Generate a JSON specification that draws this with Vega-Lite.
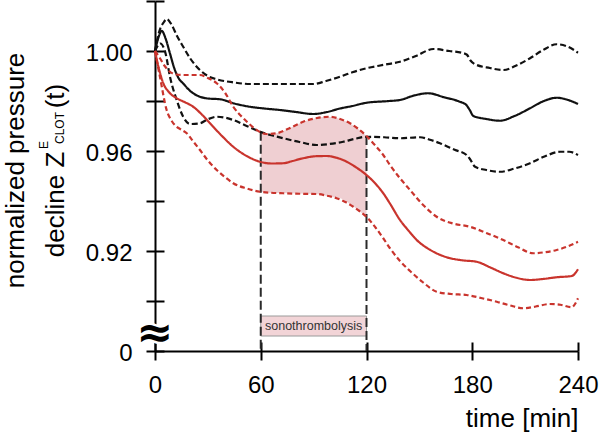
{
  "$schema": "https://vega.github.io/schema/vega-lite/v6.json",
  "width": 423,
  "height": 350,
  "autosize": {"type": "none"},
  "padding": {"left": 155, "top": 1, "right": 22, "bottom": 82},
  "config": {"view": {"stroke": null}, "font": "Liberation Sans"},
  "datasets": {
    "curves": [
      {"s":"CM","t":0,"v":1.000},{"s":"CM","t":2,"v":1.0055},{"s":"CM","t":3.8,"v":1.0081},{"s":"CM","t":6,"v":1.005},{"s":"CM","t":8.5,"v":0.999},{"s":"CM","t":11,"v":0.993},{"s":"CM","t":13.5,"v":0.989},{"s":"CM","t":16,"v":0.987},{"s":"CM","t":20,"v":0.984},{"s":"CM","t":25.5,"v":0.9817},{"s":"CM","t":30,"v":0.981},{"s":"CM","t":36.9,"v":0.9807},{"s":"CM","t":45,"v":0.979},{"s":"CM","t":53.9,"v":0.9777},{"s":"CM","t":62,"v":0.977},{"s":"CM","t":70.9,"v":0.9764},{"s":"CM","t":80,"v":0.9756},{"s":"CM","t":89.8,"v":0.9748},{"s":"CM","t":97,"v":0.9755},{"s":"CM","t":105,"v":0.977},{"s":"CM","t":112,"v":0.978},{"s":"CM","t":120,"v":0.9793},{"s":"CM","t":133,"v":0.980},{"s":"CM","t":139,"v":0.9804},{"s":"CM","t":147,"v":0.9822},{"s":"CM","t":155,"v":0.9831},{"s":"CM","t":164,"v":0.9815},{"s":"CM","t":173,"v":0.9797},{"s":"CM","t":176.5,"v":0.9785},{"s":"CM","t":178.5,"v":0.9765},{"s":"CM","t":180.6,"v":0.974},{"s":"CM","t":188,"v":0.9728},{"s":"CM","t":195.7,"v":0.9721},{"s":"CM","t":204,"v":0.974},{"s":"CM","t":212.8,"v":0.9771},{"s":"CM","t":220,"v":0.9798},{"s":"CM","t":227.9,"v":0.9813},{"s":"CM","t":234,"v":0.9805},{"s":"CM","t":240,"v":0.9788},

      {"s":"CU","t":0,"v":1.000},{"s":"CU","t":2.5,"v":1.008},{"s":"CU","t":5,"v":1.0115},{"s":"CU","t":6.6,"v":1.0128},{"s":"CU","t":9,"v":1.011},{"s":"CU","t":12.5,"v":1.006},{"s":"CU","t":16,"v":1.0017},{"s":"CU","t":20,"v":0.997},{"s":"CU","t":25.5,"v":0.9924},{"s":"CU","t":30,"v":0.990},{"s":"CU","t":35,"v":0.9887},{"s":"CU","t":45,"v":0.9874},{"s":"CU","t":54,"v":0.9868},{"s":"CU","t":72.8,"v":0.9868},{"s":"CU","t":89.8,"v":0.9868},{"s":"CU","t":97,"v":0.988},{"s":"CU","t":105,"v":0.9897},{"s":"CU","t":112,"v":0.9915},{"s":"CU","t":120,"v":0.9931},{"s":"CU","t":130,"v":0.9945},{"s":"CU","t":139,"v":0.9957},{"s":"CU","t":148,"v":0.998},{"s":"CU","t":158,"v":1.0008},{"s":"CU","t":167,"v":1.0000},{"s":"CU","t":174,"v":0.9993},{"s":"CU","t":177,"v":0.9985},{"s":"CU","t":179,"v":0.9962},{"s":"CU","t":181.6,"v":0.9947},{"s":"CU","t":190,"v":0.9932},{"s":"CU","t":197.6,"v":0.9924},{"s":"CU","t":205,"v":0.9942},{"s":"CU","t":212.8,"v":0.9971},{"s":"CU","t":220,"v":1.0003},{"s":"CU","t":227.9,"v":1.0027},{"s":"CU","t":234,"v":1.0018},{"s":"CU","t":240,"v":0.9993},

      {"s":"CL","t":0,"v":1.000},{"s":"CL","t":3,"v":1.003},{"s":"CL","t":6,"v":0.999},{"s":"CL","t":8.5,"v":0.9897},{"s":"CL","t":12.3,"v":0.9804},{"s":"CL","t":16,"v":0.9737},{"s":"CL","t":19.9,"v":0.9708},{"s":"CL","t":25.5,"v":0.9711},{"s":"CL","t":30,"v":0.9727},{"s":"CL","t":35,"v":0.9737},{"s":"CL","t":40,"v":0.9733},{"s":"CL","t":44.4,"v":0.9724},{"s":"CL","t":52,"v":0.970},{"s":"CL","t":59.6,"v":0.9677},{"s":"CL","t":66,"v":0.9663},{"s":"CL","t":72.8,"v":0.9651},{"s":"CL","t":82,"v":0.9636},{"s":"CL","t":91.7,"v":0.9624},{"s":"CL","t":99,"v":0.9628},{"s":"CL","t":106.8,"v":0.9637},{"s":"CL","t":113,"v":0.9648},{"s":"CL","t":120,"v":0.9657},{"s":"CL","t":130,"v":0.9655},{"s":"CL","t":139,"v":0.9651},{"s":"CL","t":150.4,"v":0.9655},{"s":"CL","t":156,"v":0.9645},{"s":"CL","t":161.7,"v":0.9631},{"s":"CL","t":170,"v":0.9605},{"s":"CL","t":176.8,"v":0.9584},{"s":"CL","t":178.5,"v":0.957},{"s":"CL","t":181.6,"v":0.9537},{"s":"CL","t":188,"v":0.9524},{"s":"CL","t":195.7,"v":0.9517},{"s":"CL","t":204,"v":0.953},{"s":"CL","t":212.8,"v":0.9551},{"s":"CL","t":221,"v":0.9578},{"s":"CL","t":229.8,"v":0.9597},{"s":"CL","t":235,"v":0.9597},{"s":"CL","t":240,"v":0.9584},

      {"s":"SM","t":0,"v":1.000},{"s":"SM","t":2,"v":0.9935},{"s":"SM","t":4.7,"v":0.9871},{"s":"SM","t":8,"v":0.9835},{"s":"SM","t":12.3,"v":0.9811},{"s":"SM","t":17,"v":0.9795},{"s":"SM","t":21.7,"v":0.9777},{"s":"SM","t":26,"v":0.975},{"s":"SM","t":31.2,"v":0.9711},{"s":"SM","t":38,"v":0.966},{"s":"SM","t":44.4,"v":0.9617},{"s":"SM","t":52,"v":0.958},{"s":"SM","t":59.6,"v":0.9557},{"s":"SM","t":66,"v":0.955},{"s":"SM","t":72.8,"v":0.9551},{"s":"SM","t":78,"v":0.956},{"s":"SM","t":84.1,"v":0.9571},{"s":"SM","t":91,"v":0.9579},{"s":"SM","t":97.4,"v":0.958},{"s":"SM","t":103,"v":0.9573},{"s":"SM","t":108.8,"v":0.9557},{"s":"SM","t":114,"v":0.9535},{"s":"SM","t":120,"v":0.9504},{"s":"SM","t":125,"v":0.947},{"s":"SM","t":129.5,"v":0.9431},{"s":"SM","t":133.3,"v":0.939},{"s":"SM","t":139,"v":0.9324},{"s":"SM","t":144,"v":0.928},{"s":"SM","t":148.5,"v":0.9244},{"s":"SM","t":156,"v":0.9205},{"s":"SM","t":165.5,"v":0.9175},{"s":"SM","t":174,"v":0.9163},{"s":"SM","t":182.5,"v":0.9157},{"s":"SM","t":190,"v":0.9135},{"s":"SM","t":197.6,"v":0.9111},{"s":"SM","t":205,"v":0.9093},{"s":"SM","t":212.8,"v":0.9084},{"s":"SM","t":220,"v":0.9088},{"s":"SM","t":227.9,"v":0.9095},{"s":"SM","t":236.4,"v":0.910},{"s":"SM","t":240,"v":0.9127},

      {"s":"SU","t":0,"v":1.000},{"s":"SU","t":2.8,"v":0.9971},{"s":"SU","t":5.5,"v":0.994},{"s":"SU","t":8.5,"v":0.9917},{"s":"SU","t":12,"v":0.9906},{"s":"SU","t":16,"v":0.9904},{"s":"SU","t":25.5,"v":0.9904},{"s":"SU","t":30,"v":0.9892},{"s":"SU","t":35,"v":0.9871},{"s":"SU","t":40,"v":0.983},{"s":"SU","t":44.4,"v":0.9777},{"s":"SU","t":51,"v":0.9725},{"s":"SU","t":57.7,"v":0.9684},{"s":"SU","t":63,"v":0.9668},{"s":"SU","t":69,"v":0.9671},{"s":"SU","t":76,"v":0.969},{"s":"SU","t":84.1,"v":0.9717},{"s":"SU","t":92,"v":0.9732},{"s":"SU","t":99.3,"v":0.9737},{"s":"SU","t":105,"v":0.9728},{"s":"SU","t":110.6,"v":0.9711},{"s":"SU","t":115,"v":0.969},{"s":"SU","t":120,"v":0.966},{"s":"SU","t":125,"v":0.9622},{"s":"SU","t":129.5,"v":0.9584},{"s":"SU","t":133.3,"v":0.9544},{"s":"SU","t":139,"v":0.9491},{"s":"SU","t":144.7,"v":0.9444},{"s":"SU","t":152,"v":0.9385},{"s":"SU","t":159.8,"v":0.9337},{"s":"SU","t":169,"v":0.931},{"s":"SU","t":178.7,"v":0.9297},{"s":"SU","t":188,"v":0.9272},{"s":"SU","t":197.6,"v":0.9244},{"s":"SU","t":206,"v":0.9215},{"s":"SU","t":214.6,"v":0.9191},{"s":"SU","t":221,"v":0.9195},{"s":"SU","t":227.9,"v":0.9204},{"s":"SU","t":234,"v":0.9218},{"s":"SU","t":240,"v":0.9237},

      {"s":"SL","t":0,"v":1.000},{"s":"SL","t":2.8,"v":0.9897},{"s":"SL","t":6.6,"v":0.9764},{"s":"SL","t":9.5,"v":0.972},{"s":"SL","t":12.3,"v":0.9697},{"s":"SL","t":15,"v":0.9685},{"s":"SL","t":18,"v":0.9671},{"s":"SL","t":21.5,"v":0.964},{"s":"SL","t":25.5,"v":0.9604},{"s":"SL","t":30,"v":0.9562},{"s":"SL","t":35,"v":0.9524},{"s":"SL","t":40,"v":0.9494},{"s":"SL","t":44.4,"v":0.9471},{"s":"SL","t":52,"v":0.945},{"s":"SL","t":59.6,"v":0.9437},{"s":"SL","t":66,"v":0.9433},{"s":"SL","t":72.8,"v":0.9431},{"s":"SL","t":82,"v":0.9429},{"s":"SL","t":91.7,"v":0.9428},{"s":"SL","t":97,"v":0.9422},{"s":"SL","t":103,"v":0.9411},{"s":"SL","t":108,"v":0.9396},{"s":"SL","t":112.5,"v":0.9377},{"s":"SL","t":116,"v":0.936},{"s":"SL","t":120,"v":0.9337},{"s":"SL","t":125,"v":0.9295},{"s":"SL","t":129.5,"v":0.9251},{"s":"SL","t":133.3,"v":0.9211},{"s":"SL","t":139,"v":0.916},{"s":"SL","t":144.7,"v":0.912},{"s":"SL","t":152,"v":0.9075},{"s":"SL","t":159.8,"v":0.9037},{"s":"SL","t":168,"v":0.9028},{"s":"SL","t":176.8,"v":0.9024},{"s":"SL","t":185,"v":0.9012},{"s":"SL","t":193.9,"v":0.8997},{"s":"SL","t":201,"v":0.8983},{"s":"SL","t":209,"v":0.8971},{"s":"SL","t":216,"v":0.8978},{"s":"SL","t":224,"v":0.8988},{"s":"SL","t":230,"v":0.8985},{"s":"SL","t":236.4,"v":0.8975},{"s":"SL","t":238.5,"v":0.899},{"s":"SL","t":240,"v":0.9011}
    ],
    "band": [
      {"t":60,"lo":0.9437,"hi":0.9677},{"t":65,"lo":0.9433,"hi":0.9668},{"t":70,"lo":0.9432,"hi":0.9673},{"t":75,"lo":0.9431,"hi":0.9687},{"t":80,"lo":0.943,"hi":0.9704},{"t":85,"lo":0.9429,"hi":0.9719},{"t":90,"lo":0.9428,"hi":0.9729},{"t":95,"lo":0.9424,"hi":0.9736},{"t":100,"lo":0.9416,"hi":0.9736},{"t":105,"lo":0.9411,"hi":0.9728},{"t":110,"lo":0.9391,"hi":0.9713},{"t":115,"lo":0.9365,"hi":0.969},{"t":120,"lo":0.9337,"hi":0.966}
    ],
    "markers": [{"t":60,"top":0.9677},{"t":120,"top":0.966}],
    "period": [{"start":60,"end":120,"label":"sonothrombolysis"}],
    "subs": [{"kind":"sup","txt":"E"},{"kind":"sub","txt":"CLOT"}],
    "brk": [{"sym":"≈"}]
  },
  "resolve": {"axis": {"x": "independent", "y": "independent"}},
  "layer": [
    {
      "data": {"name": "band"},
      "mark": {"type": "area", "color": "#efcfd2", "opacity": 1, "interpolate": "monotone"},
      "encoding": {
        "x": {
          "field": "t", "type": "quantitative", "scale": {"domain": [0, 240]},
          "axis": {"orient": "bottom", "offset": -9, "values": [0, 60, 120, 180, 240], "tickSize": 9, "tickWidth": 2, "tickColor": "#000", "domain": false, "labels": false, "title": null, "grid": false}
        },
        "y": {
          "field": "hi", "type": "quantitative", "scale": {"domain": [0.88, 1.02]},
          "axis": {"orient": "left", "offset": -9, "values": [0.88, 0.9, 0.92, 0.94, 0.96, 0.98, 1.0, 1.02], "tickSize": 9, "tickWidth": 2, "tickColor": "#000", "domain": false, "labels": false, "title": null, "grid": false}
        },
        "y2": {"field": "lo"}
      }
    },
    {
      "data": {"name": "period"},
      "mark": {"type": "rect", "fill": "#f2d4d7", "stroke": "#9a9a9a", "strokeWidth": 1},
      "encoding": {
        "x": {"field": "start", "type": "quantitative", "scale": {"domain": [0, 240]}, "axis": null},
        "x2": {"field": "end"},
        "y": {"datum": 0.894, "type": "quantitative", "scale": {"domain": [0.88, 1.02]}, "axis": null},
        "y2": {"datum": 0.886}
      }
    },
    {
      "data": {"name": "period"},
      "mark": {"type": "text", "fontSize": 12.5, "color": "#333333", "baseline": "middle", "align": "center"},
      "encoding": {
        "x": {"datum": 90, "type": "quantitative", "scale": {"domain": [0, 240]}, "axis": null},
        "y": {"datum": 0.89, "type": "quantitative", "scale": {"domain": [0.88, 1.02]}, "axis": null},
        "text": {"field": "label"}
      }
    },
    {
      "data": {"name": "markers"},
      "mark": {"type": "rule", "stroke": "#2a2a2a", "strokeWidth": 2, "strokeDash": [9, 4]},
      "encoding": {
        "x": {"field": "t", "type": "quantitative", "scale": {"domain": [0, 240]}, "axis": null},
        "y": {"field": "top", "type": "quantitative", "scale": {"domain": [0.88, 1.02]}, "axis": null},
        "y2": {"datum": 0.88}
      }
    },
    {
      "data": {"name": "curves"},
      "mark": {"type": "line", "interpolate": "monotone", "strokeWidth": 2.2},
      "encoding": {
        "x": {
          "field": "t", "type": "quantitative", "scale": {"domain": [0, 240]},
          "axis": {
            "orient": "bottom", "values": [0, 60, 120, 180, 240], "grid": false,
            "tickSize": 9, "tickWidth": 2, "tickColor": "#000", "domainColor": "#000", "domainWidth": 2,
            "labelFontSize": 24, "labelColor": "#000", "labelPadding": 13, "labelFlush": false,
            "title": "time [min]", "titleFontSize": 26, "titleFontWeight": "normal", "titleColor": "#000",
            "titleAnchor": "end", "titleAlign": "right", "titleBaseline": "alphabetic", "titleX": 423, "titleY": 75
          }
        },
        "y": {
          "field": "v", "type": "quantitative", "scale": {"domain": [0.88, 1.02]},
          "axis": {
            "orient": "left", "values": [0.88, 0.9, 0.92, 0.94, 0.96, 0.98, 1.0, 1.02], "grid": false,
            "labelExpr": "datum.value < 0.885 ? '0' : (round(datum.value * 100) % 4 == 0 ? format(datum.value, '.2f') : '')",
            "tickSize": 9, "tickWidth": 2, "tickColor": "#000", "domainColor": "#000", "domainWidth": 2,
            "labelFontSize": 24, "labelColor": "#000", "labelPadding": 14, "labelOffset": 2, "labelFlush": false,
            "title": ["normalized pressure", "decline Z\u00a0\u00a0\u00a0\u00a0\u00a0\u00a0(t)"],
            "titleFontSize": 26, "titleFontWeight": "normal", "titleColor": "#000", "titleAngle": 270,
            "titleAlign": "center", "titleBaseline": "alphabetic", "titleX": -132, "titleY": 169, "titleLineHeight": 40
          }
        },
        "color": {
          "field": "s", "type": "nominal", "legend": null,
          "scale": {"domain": ["CU", "CM", "CL", "SU", "SM", "SL"], "range": ["#111111", "#111111", "#111111", "#c9342d", "#c9342d", "#c9342d"]}
        },
        "strokeDash": {
          "field": "s", "type": "nominal", "legend": null,
          "scale": {"domain": ["CU", "CM", "CL", "SU", "SM", "SL"], "range": [[6, 3], [1, 0], [6, 3], [5, 3], [1, 0], [5, 3]]}
        }
      }
    },
    {
      "data": {"name": "brk"},
      "mark": {"type": "text", "font": "DejaVu Sans", "fontSize": 44, "fontWeight": "bold", "fill": "#ffffff", "stroke": "#ffffff", "strokeWidth": 5, "align": "center", "baseline": "middle"},
      "encoding": {
        "x": {"datum": 0, "type": "quantitative", "scale": {"domain": [0, 240]}, "axis": null},
        "y": {"datum": 0.8868, "type": "quantitative", "scale": {"domain": [0.88, 1.02]}, "axis": null},
        "text": {"field": "sym"}
      }
    },
    {
      "data": {"name": "brk"},
      "mark": {"type": "text", "font": "DejaVu Sans", "fontSize": 44, "fontWeight": "bold", "fill": "#000000", "align": "center", "baseline": "middle"},
      "encoding": {
        "x": {"datum": 0, "type": "quantitative", "scale": {"domain": [0, 240]}, "axis": null},
        "y": {"datum": 0.8868, "type": "quantitative", "scale": {"domain": [0.88, 1.02]}, "axis": null},
        "text": {"field": "sym"}
      }
    },
    {
      "data": {"name": "subs"},
      "transform": [{"filter": "datum.kind == 'sup'"}],
      "mark": {"type": "text", "fontSize": 12, "angle": 270, "color": "#000000", "align": "center", "baseline": "middle"},
      "encoding": {
        "x": {"datum": -63, "type": "quantitative", "scale": {"domain": [0, 240]}, "axis": null},
        "y": {"datum": 0.9624, "type": "quantitative", "scale": {"domain": [0.88, 1.02]}, "axis": null},
        "text": {"field": "txt"}
      }
    },
    {
      "data": {"name": "subs"},
      "transform": [{"filter": "datum.kind == 'sub'"}],
      "mark": {"type": "text", "fontSize": 12, "angle": 270, "color": "#000000", "align": "center", "baseline": "middle"},
      "encoding": {
        "x": {"datum": -53.9, "type": "quantitative", "scale": {"domain": [0, 240]}, "axis": null},
        "y": {"datum": 0.9692, "type": "quantitative", "scale": {"domain": [0.88, 1.02]}, "axis": null},
        "text": {"field": "txt"}
      }
    }
  ]
}
